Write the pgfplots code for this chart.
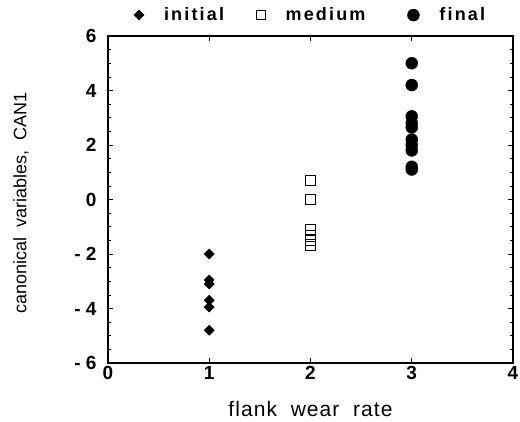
\documentclass[border=0pt]{standalone}
\usepackage{pgfplots}
\pgfplotsset{compat=1.18}
\usepackage{fontspec}
\setmainfont{Liberation Sans}
\setsansfont{Liberation Sans}

\begin{document}
\begin{tikzpicture}
\begin{axis}[
    scale only axis,
    width=405pt, height=327pt,
    xmin=0, xmax=4, ymin=-6, ymax=6,
    xtick={0,1,2,3,4}, ytick={-6,-4,...,6},
    yticklabels={- 6,- 4,- 2,0,2,4,6},
    minor y tick num=3,
    tick align=inside,
    major tick length=5pt, minor tick length=3pt,
    axis line style={line width=1.5pt},
    tick style={line width=0.6pt, black},
    /pgf/number format/assume math mode=true,
    tick label style={font=\fontsize{19}{21}\selectfont\bfseries},
    yticklabel style={xshift=-8pt},
    xticklabel style={yshift=0pt},
    xlabel={flank\ \ wear\ \ rate},
    ylabel={canonical\ \ variables,\ \ CAN1},
    xlabel style={at={(axis description cs:0.5,-0.14)}, anchor=center,
        font=\fontsize{21}{23}\selectfont\addfontfeature{LetterSpace=5}},
    ylabel style={at={(axis description cs:-0.215,0.49)}, anchor=center,
        font=\fontsize{18}{20}\selectfont\addfontfeature{LetterSpace=0}},
    legend style={draw=none, at={(0.5,1.064)}, anchor=center, fill=none,
        font=\fontsize{18}{20}\selectfont\bfseries\addfontfeature{LetterSpace=12},
        column sep=0pt},
    legend columns=3,
    legend cell align=left,
]
\coordinate (ll) at (rel axis cs:0,0);
\coordinate (ur) at (rel axis cs:1,1);
\addplot[only marks, mark=square*, mark options={rotate=45}, mark size=3.6pt, black]
    coordinates {(1,-2.0) (1,-2.95) (1,-3.1) (1,-3.7) (1,-3.95) (1,-4.8)};
\addlegendentry{\kern18pt initial\kern30pt}
\addplot[only marks, mark=square, mark size=4.8pt, black, thick]
    coordinates {(2,0.7) (2,0.0) (2,-1.1) (2,-1.3) (2,-1.5) (2,-1.7)};
\addlegendentry{\kern18pt medium\kern40pt}
\addplot[only marks, mark=*, mark size=6pt, black]
    coordinates {(3,5.0) (3,4.2) (3,3.05) (3,2.8) (3,2.65) (3,2.2) (3,2.0) (3,1.8) (3,1.2) (3,1.1)};
\addlegendentry{\kern18pt final}
\end{axis}
\pgfresetboundingbox
\useasboundingbox ([shift={(-108pt,-59pt)}]ll) rectangle ([shift={(7pt,36pt)}]ur);
\end{tikzpicture}
\end{document}
